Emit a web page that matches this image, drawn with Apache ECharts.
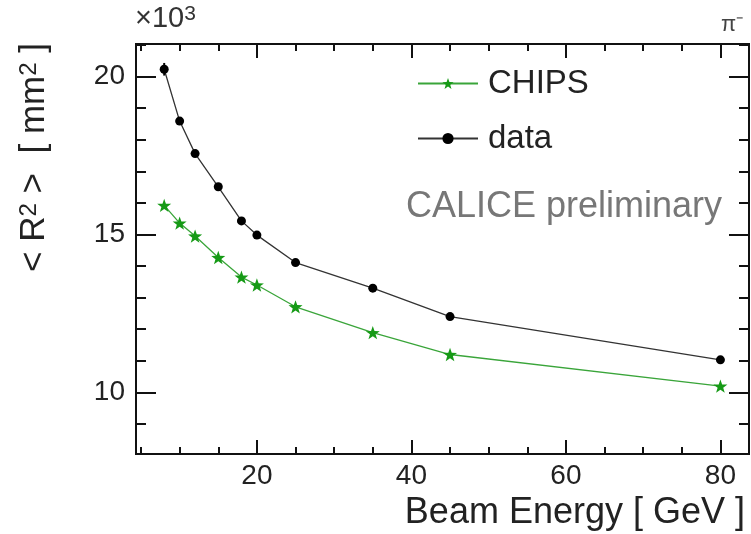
<!DOCTYPE html>
<html>
<head>
<meta charset="utf-8">
<script src="https://cdn.jsdelivr.net/npm/echarts@6/dist/echarts.min.js"></script>
<style>
  html, body { margin: 0; padding: 0; background: #fff; }
  #chart { width: 751px; height: 534px; }
</style>
</head>
<body>
<div id="chart"></div>
<script>
// beam energies [GeV]
const energies = [8, 10, 12, 15, 18, 20, 25, 35, 45, 80];
// <R^2> in units of 10^3 mm^2
const dataR2 = [20.23, 18.59, 17.56, 16.51, 15.43, 14.98, 14.11, 13.30, 12.40, 11.03];
const dataErr = [0.2, 0.06, 0.06, 0.05, 0.05, 0.05, 0.05, 0.05, 0.05, 0.05];
const chipsR2 = [15.92, 15.36, 14.95, 14.27, 13.65, 13.40, 12.71, 11.89, 11.20, 10.20];

const xMajorTicks = [20, 40, 60, 80];
const xMinorTicks = [5, 10, 15, 25, 30, 35, 45, 50, 55, 65, 70, 75];
const yMajorTicks = [10, 15, 20];
const yMinorTicks = [9, 11, 12, 13, 14, 16, 17, 18, 19, 21];

const font = "Liberation Sans";
const ink = "#111";
const green = "#169a16";
const star = "path://M0,-10 L2.35,-3.24 L9.51,-3.09 L3.8,1.24 L5.88,8.09 L0,4 L-5.88,8.09 L-3.8,1.24 L-9.51,-3.09 L-2.35,-3.24 Z";

const xRange = { min: 4.35, max: 83.7 };
const yRange = { min: 8.05, max: 21.03 };

function xAx(position, ticks, len, labels) {
  return {
    type: "value", position, ...xRange,
    splitLine: { show: false },
    axisLine: { show: true, onZero: false, lineStyle: { color: ink, width: 2 } },
    axisTick: { show: true, inside: true, length: len, customValues: ticks, lineStyle: { color: ink, width: 2 } },
    axisLabel: labels
      ? { show: true, customValues: ticks, fontSize: 28, fontFamily: font, color: "#222", margin: 8 }
      : { show: false },
  };
}
function yAx(position, ticks, len, labels) {
  return {
    type: "value", position, ...yRange,
    splitLine: { show: false },
    axisLine: { show: true, onZero: false, lineStyle: { color: ink, width: 2 } },
    axisTick: { show: true, inside: true, length: len, customValues: ticks, lineStyle: { color: ink, width: 2 } },
    axisLabel: labels
      ? { show: true, customValues: ticks, fontSize: 28, fontFamily: font, color: "#222", margin: 11 }
      : { show: false },
  };
}

const chart = echarts.init(document.getElementById("chart"));
const option = {
  animation: false,
  backgroundColor: "#fff",
  grid: { left: 136, right: 2, top: 44, bottom: 80 },
  xAxis: [
    xAx("bottom", xMajorTicks, 14, true),
    xAx("bottom", xMinorTicks, 7, false),
    xAx("top", xMajorTicks, 14, false),
    xAx("top", xMinorTicks, 7, false),
  ],
  yAxis: [
    yAx("left", yMajorTicks, 20, true),
    yAx("left", yMinorTicks, 10, false),
    yAx("right", yMajorTicks, 20, false),
    yAx("right", yMinorTicks, 10, false),
  ],
  legend: {
    orient: "vertical",
    left: 412, top: 62,
    itemWidth: 60, itemHeight: 14, itemGap: 22,
    textStyle: { fontSize: 33, fontFamily: font, color: "#222", padding: [0, 0, 0, 5] },
    data: ["CHIPS", "data"],
  },
  graphic: [
    { type: "text", left: 135, top: 4,
      style: { text: "×10{s|3}", fontSize: 29, fontFamily: font, fill: "#333",
               rich: { s: { fontSize: 21, fontFamily: font, verticalAlign: "top", fill: "#333" } } } },
    { type: "text", left: 721, top: 14,
      style: { text: "π⁻", fontSize: 22, fontFamily: font, fill: "#444" } },
    { type: "text", left: 406, top: 189,
      style: { text: "CALICE preliminary", fontSize: 36, fontFamily: font, fill: "#777" } },
    { type: "text", right: 6, top: 495,
      style: { text: "Beam Energy [ GeV ]", fontSize: 36, fontFamily: font, fill: "#222" } },
    { type: "text", x: 17, y: 43, rotation: Math.PI / 2,
      style: { text: "< R{s|2} >  [ mm{s|2} ]", fontSize: 35, fontFamily: font, fill: "#222",
               align: "right", verticalAlign: "top",
               rich: { s: { fontSize: 24, fontFamily: font, verticalAlign: "top", fill: "#222" } } } },
  ],
  series: [
    {
      name: "CHIPS", type: "line", xAxisIndex: 0, yAxisIndex: 0,
      data: energies.map((e, i) => [e, chipsR2[i]]),
      symbol: star, symbolSize: 14, symbolKeepAspect: true,
      lineStyle: { color: "#3aa53a", width: 1.3 },
      itemStyle: { color: green },
      z: 3,
    },
    {
      name: "data", type: "line", xAxisIndex: 0, yAxisIndex: 0,
      data: energies.map((e, i) => [e, dataR2[i]]),
      symbol: "circle", symbolSize: 9,
      lineStyle: { color: "#333", width: 1.3 },
      itemStyle: { color: "#000" },
      z: 4,
    },
    {
      name: "dataErr", type: "custom", xAxisIndex: 0, yAxisIndex: 0,
      data: energies.map((e, i) => [e, dataR2[i] - dataErr[i], dataR2[i] + dataErr[i]]),
      renderItem: (params, api) => {
        const lo = api.coord([api.value(0), api.value(1)]);
        const hi = api.coord([api.value(0), api.value(2)]);
        return {
          type: "line",
          shape: { x1: lo[0], y1: lo[1], x2: hi[0], y2: hi[1] },
          style: { stroke: "#000", lineWidth: 2 },
        };
      },
      z: 5,
    },
  ],
};
chart.setOption(option);
</script>
</body>
</html>
